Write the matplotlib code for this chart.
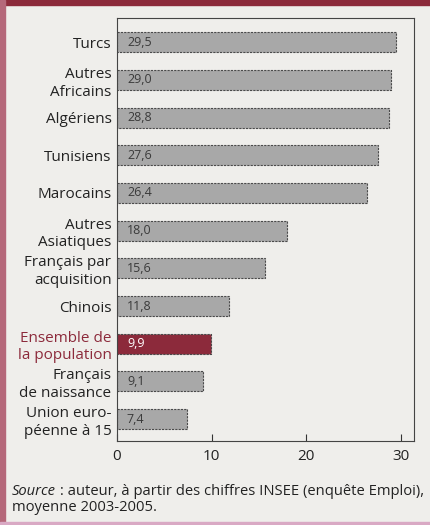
import matplotlib.pyplot as plt
from matplotlib.patches import Rectangle

plt.rcParams['font.family'] = ['Open Sans', 'DejaVu Sans']

categories = ['Turcs', 'Autres\nAfricains', 'Algériens', 'Tunisiens', 'Marocains',
              'Autres\nAsiatiques', 'Français par\nacquisition', 'Chinois',
              'Ensemble de\nla population', 'Français\nde naissance',
              'Union euro-\npéenne à 15']
values = [29.5, 29.0, 28.8, 27.6, 26.4, 18.0, 15.6, 11.8, 9.9, 9.1, 7.4]
value_labels = ['29,5', '29,0', '28,8', '27,6', '26,4', '18,0', '15,6', '11,8',
                '9,9', '9,1', '7,4']
highlight = 'Ensemble de\nla population'
xticks = [0, 10, 20, 30]

bg = '#efeeeb'
red = '#8c2a3b'

fig = plt.figure(figsize=(4.31, 5.25), dpi=100, facecolor=bg)

# cadre de la page
fig.patches.append(Rectangle((0, 0.99), 1, 0.01, transform=fig.transFigure,
                             color=red, zorder=0))
fig.patches.append(Rectangle((0, 0), 0.011, 1, transform=fig.transFigure,
                             color='#b5687a', zorder=0))
fig.patches.append(Rectangle((0, 0), 1, 0.006, transform=fig.transFigure,
                             color='#d9a9c4', zorder=0))

ax = fig.add_axes([0.2715, 0.16, 0.689, 0.8057])
ax.set_facecolor(bg)

y = list(range(len(categories)))
colors = [red if c == highlight else '#a8a8a8' for c in categories]
ax.barh(y, values, height=0.53, color=colors, edgecolor='#4a4a4a',
        linewidth=0.8, linestyle=(0, (2, 1)), zorder=2)

for i, (v, lab, c) in enumerate(zip(values, value_labels, categories)):
    col = 'white' if c == highlight else '#3a3a3a'
    ax.text(1.05, i, lab, va='center', ha='left', fontsize=9, color=col, zorder=3)

ax.set_yticks(y)
ax.set_yticklabels(categories, fontsize=11, color='#222222', linespacing=1.25)
for t in ax.get_yticklabels():
    if t.get_text() == highlight:
        t.set_color(red)
ax.tick_params(axis='y', length=0, pad=4)

ax.set_xticks(xticks)
ax.set_xticklabels([str(x) for x in xticks], fontsize=11, color='#222222')
ax.tick_params(axis='x', direction='in', length=5, width=0.8, color='#333333', pad=6)

ax.set_xlim(0, 31.4)
ax.set_ylim(len(categories) - 1 + 0.58, -0.64)

for s in ax.spines.values():
    s.set_color('#444444')
    s.set_linewidth(0.8)

# source
fs = 10.6
t1 = fig.text(0.028, 0.058, 'Source', fontsize=fs, style='italic', color='#222222')
fig.canvas.draw()
bb = t1.get_window_extent()
x2 = bb.x1 / fig.bbox.width
fig.text(x2, 0.058, ' : auteur, à partir des chiffres INSEE (enquête Emploi),',
         fontsize=fs, color='#222222')
fig.text(0.028, 0.026, 'moyenne 2003-2005.', fontsize=fs, color='#222222')

fig.savefig('out.png', dpi=100, facecolor=bg)
